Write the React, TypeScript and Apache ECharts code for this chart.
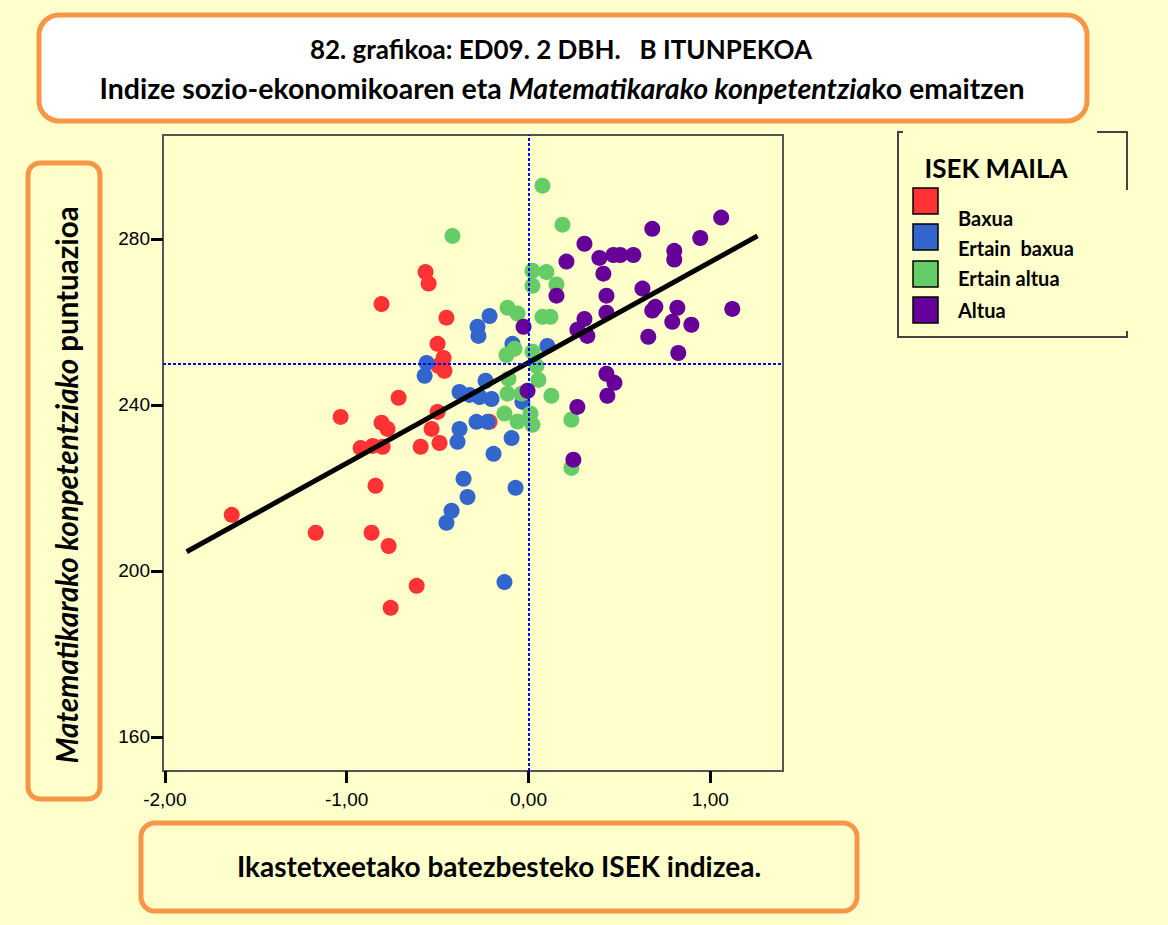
import React, { useEffect, useRef } from "react";
import * as echarts from "echarts";

const seriesNames = ["Baxua", "Ertain  baxua", "Ertain altua", "Altua"];
const seriesColors = ["#ff3333", "#3366cc", "#66cc66", "#660099"];

const baxua: [number, number][] = [
  [-1.632, 213.5], [-1.17, 209.2], [-1.033, 237.1], [-0.923, 229.6], [-0.857, 230.1],
  [-0.802, 229.9], [-0.808, 235.7], [-0.775, 234.2], [-0.714, 241.7], [-0.5, 238.3],
  [-0.533, 234.2], [-0.593, 229.9], [-0.489, 230.8], [-0.808, 264.3], [-0.566, 272.0],
  [-0.549, 269.2], [-0.451, 261.0], [-0.5, 254.7], [-0.467, 251.3], [-0.495, 249.4],
  [-0.462, 248.2], [-0.841, 220.5], [-0.863, 209.2], [-0.769, 206.0], [-0.615, 196.4],
  [-0.758, 191.1], [-0.214, 235.9],
];

const ertainBaxua: [number, number][] = [
  [-0.28, 258.8], [-0.275, 256.6], [-0.214, 261.4], [-0.088, 254.7], [0.104, 254.2],
  [-0.56, 250.1], [-0.571, 247.0], [-0.236, 245.8], [-0.379, 243.1], [-0.324, 242.4],
  [-0.269, 241.9], [-0.203, 241.4], [-0.033, 240.7], [-0.286, 235.9], [-0.225, 235.9],
  [-0.379, 234.2], [-0.39, 231.1], [-0.192, 228.2], [-0.093, 232.0], [-0.357, 222.2],
  [-0.335, 217.8], [-0.423, 214.5], [-0.451, 211.6], [-0.071, 220.0], [-0.132, 197.3],
];

const ertainAltua: [number, number][] = [
  [-0.418, 280.7], [0.077, 292.8], [0.187, 283.4], [0.022, 272.3], [0.099, 272.0],
  [0.022, 268.7], [0.154, 269.0], [-0.115, 263.4], [-0.06, 262.0], [0.077, 261.2],
  [0.121, 261.2], [0.022, 252.8], [-0.077, 253.5], [-0.121, 252.0], [0.044, 249.4],
  [-0.11, 246.3], [0.055, 246.0], [-0.115, 242.7], [-0.038, 242.7], [0.126, 242.2],
  [-0.132, 237.9], [-0.06, 236.0], [0.011, 237.9], [0.022, 235.2], [0.236, 236.4],
  [0.236, 224.8],
];

const altua: [number, number][] = [
  [1.06, 285.1], [0.681, 282.4], [0.945, 280.2], [0.308, 278.8], [0.802, 277.1],
  [0.802, 275.0], [0.39, 275.4], [0.467, 276.1], [0.505, 276.1], [0.577, 276.1],
  [0.209, 274.5], [0.412, 271.6], [0.627, 268.0], [0.154, 266.3], [0.429, 266.3],
  [0.429, 262.2], [0.698, 263.6], [0.681, 262.7], [0.819, 263.4], [1.121, 263.1],
  [0.791, 260.0], [0.896, 259.3], [0.308, 260.7], [0.269, 258.1], [0.324, 256.6],
  [0.659, 256.4], [0.824, 252.5], [-0.027, 258.8], [0.429, 247.5], [0.473, 245.3],
  [0.434, 242.2], [0.269, 239.5], [-0.005, 243.4], [0.247, 226.8],
];

const fitLine: [number, number][] = [[-1.88, 204.6], [1.26, 280.7]];
const refX = 0;
const refY = 250;

const xTicks = [-2, -1, 0, 1];
const yTicks = [160, 200, 240, 280];

const titleLine1 = "82. grafikoa: ED09. 2 DBH.   B ITUNPEKOA";
const legendTitle = "ISEK MAILA";
const xTitle = "Ikastetxeetako batezbesteko ISEK indizea.";

const BG = "#ffffcc";
const ORANGE = "#f79646";
const TFONT = "Lato, 'Open Sans', sans-serif";
const AFONT = "'Liberation Sans', Arial, sans-serif";

const tickRich = {
  t: { fontSize: 19, fontFamily: AFONT, color: "#000" },
};

export default function App() {
  const ref = useRef<HTMLDivElement>(null);
  useEffect(() => {
    if (!ref.current) return;
    const chart = echarts.init(ref.current, null, { renderer: "svg" });
    const allData = [baxua, ertainBaxua, ertainAltua, altua];

    const legendItems: any[] = [];
    seriesNames.forEach((n, i) => {
      const sqY = [188, 224, 261, 297][i];
      const lblY = [218, 248, 278, 310][i];
      legendItems.push({
        type: "rect",
        shape: { x: 913, y: sqY, width: 25, height: 26 },
        style: { fill: seriesColors[i], stroke: "#000", lineWidth: 1.5 },
      });
      legendItems.push({
        type: "text",
        x: 958,
        y: lblY,
        style: {
          text: n,
          fill: "#000",
          font: `bold 20px ${TFONT}`,
          verticalAlign: "middle",
        },
      });
    });

    chart.setOption({
      animation: false,
      backgroundColor: BG,
      grid: {
        left: 163,
        top: 135,
        width: 620,
        height: 636,
        show: true,
        backgroundColor: BG,
        borderColor: "#555",
        borderWidth: 2,
      },
      xAxis: {
        type: "value",
        min: -2.01,
        max: 1.4,
        splitLine: { show: false },
        axisLine: { show: true, onZero: false, lineStyle: { color: "#555", width: 2 } },
        axisTick: { show: true, length: 12, customValues: xTicks, lineStyle: { color: "#000", width: 3 } },
        axisLabel: {
          customValues: xTicks,
          margin: 19,
          color: "#000",
          fontSize: 19,
          fontFamily: AFONT,
          rich: tickRich,
          formatter: (v: number) => "{t|" + v.toFixed(2).replace(".", ",") + "}",
        },
      },
      yAxis: {
        type: "value",
        min: 151.8,
        max: 305,
        splitLine: { show: false },
        axisLine: { show: true, onZero: false, lineStyle: { color: "#555", width: 2 } },
        axisTick: { show: true, length: 12, customValues: yTicks, lineStyle: { color: "#000", width: 3 } },
        axisLabel: {
          customValues: yTicks,
          margin: 13,
          color: "#000",
          fontSize: 19,
          fontFamily: AFONT,
          rich: tickRich,
          formatter: (v: number) => "{t|" + String(v) + "}",
        },
      },
      series: [
        ...allData.map((d, i) => ({
          name: seriesNames[i],
          type: "scatter",
          data: d,
          symbolSize: 16,
          itemStyle: { color: seriesColors[i], opacity: 1 },
          z: 2 + i * 0.1,
        })),
        {
          name: "fit",
          type: "line",
          data: fitLine,
          showSymbol: false,
          symbol: "none",
          lineStyle: { color: "#000", width: 5 },
          z: 4,
        },
        {
          name: "ref",
          type: "scatter",
          data: [],
          z: 5,
          markLine: {
            silent: true,
            symbol: "none",
            label: { show: false },
            lineStyle: { color: "#0000ff", width: 2, type: [3, 2] },
            data: [{ xAxis: refX }, { yAxis: refY }],
          },
        },
      ],
      graphic: [
        {
          type: "rect",
          shape: { x: 39, y: 15, width: 1048, height: 106, r: 20 },
          style: { fill: "#ffffff", stroke: ORANGE, lineWidth: 5 },
        },
        {
          type: "text",
          x: 561,
          y: 49,
          style: {
            text: titleLine1,
            fill: "#000",
            font: `bold 26px ${TFONT}`,
            align: "center",
            verticalAlign: "middle",
          },
        },
        {
          type: "text",
          x: 562,
          y: 88,
          style: {
            text: "{n|Indize sozio-ekonomikoaren eta }{i|Matematikarako konpetentzia}{n|ko emaitzen}",
            align: "center",
            verticalAlign: "middle",
            rich: {
              n: { font: `bold 28.5px ${TFONT}`, fill: "#000" },
              i: { font: `italic bold 28.5px ${TFONT}`, fill: "#000" },
            },
          },
        },
        {
          type: "rect",
          shape: { x: 28, y: 163, width: 72, height: 636, r: 12 },
          style: { fill: BG, stroke: ORANGE, lineWidth: 5 },
        },
        {
          type: "text",
          x: 66,
          y: 485,
          rotation: Math.PI / 2,
          style: {
            text: "{i|Matematikarako konpetentziako}{n| puntuazioa}",
            align: "center",
            verticalAlign: "middle",
            rich: {
              n: { font: `bold 29.5px ${TFONT}`, fill: "#000" },
              i: { font: `italic bold 29.5px ${TFONT}`, fill: "#000" },
            },
          },
        },
        {
          type: "rect",
          shape: { x: 141, y: 823, width: 716, height: 88, r: 14 },
          style: { fill: BG, stroke: ORANGE, lineWidth: 5 },
        },
        {
          type: "text",
          x: 499,
          y: 866,
          style: {
            text: xTitle,
            fill: "#000",
            font: `bold 28px ${TFONT}`,
            align: "center",
            verticalAlign: "middle",
          },
        },
        {
          type: "polyline",
          shape: { points: [[903, 132], [898, 132], [898, 337], [1127, 337], [1127, 331]] },
          style: { stroke: "#444", lineWidth: 2, fill: "none" },
        },
        {
          type: "polyline",
          shape: { points: [[1097, 132], [1127, 132], [1127, 190]] },
          style: { stroke: "#444", lineWidth: 2, fill: "none" },
        },
        {
          type: "text",
          x: 996,
          y: 168,
          style: {
            text: legendTitle,
            fill: "#000",
            font: `bold 26px ${TFONT}`,
            align: "center",
            verticalAlign: "middle",
          },
        },
        ...legendItems,
      ],
    });
    return () => chart.dispose();
  }, []);
  return (
    <div
      ref={ref}
      style={{ position: "absolute", left: 0, top: 0, width: 1168, height: 925 }}
    />
  );
}
